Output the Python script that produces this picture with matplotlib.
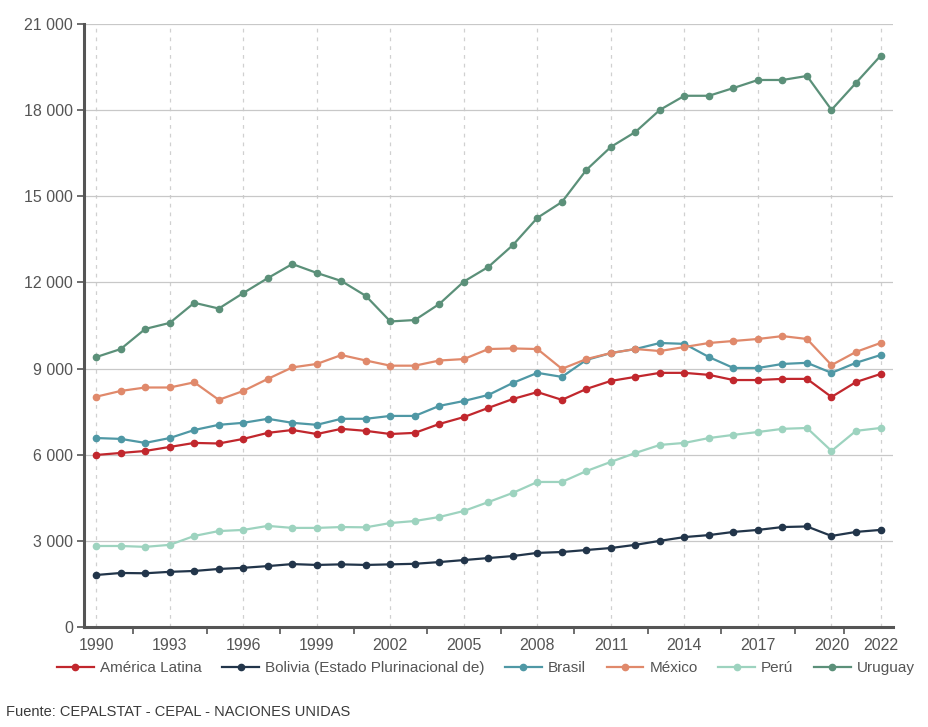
import matplotlib
matplotlib.use('Agg')
import matplotlib.pyplot as plt
from matplotlib.ticker import FuncFormatter, FixedLocator

years = list(range(1990, 2023))

america_latina = [5990, 6060, 6130, 6270, 6410, 6390, 6550, 6760, 6860, 6720, 6900, 6830, 6720, 6760, 7070, 7310,
                  7630, 7940, 8180, 7910, 8290, 8570, 8710, 8850, 8850, 8780, 8600, 8600, 8640, 8640, 8010, 8530, 8810]
bolivia = [1810, 1880, 1870, 1920, 1950, 2020, 2060, 2120, 2190, 2160, 2180, 2160, 2180, 2200, 2260, 2330,
           2400, 2470, 2580, 2610, 2680, 2750, 2860, 3000, 3130, 3200, 3310, 3380, 3480, 3500, 3170, 3310, 3380]
brasil = [6580, 6550, 6410, 6580, 6860, 7040, 7110, 7250, 7110, 7040, 7250, 7250, 7350, 7350, 7700, 7870,
          8080, 8500, 8850, 8710, 9300, 9540, 9680, 9890, 9860, 9400, 9020, 9020, 9160, 9200, 8850, 9200, 9470]
mexico = [8020, 8220, 8340, 8340, 8520, 7910, 8220, 8640, 9040, 9160, 9470, 9280, 9100, 9100, 9280, 9330,
          9680, 9700, 9680, 8990, 9330, 9540, 9680, 9610, 9750, 9890, 9960, 10030, 10130, 10030, 9120, 9580, 9890]
peru = [2820, 2820, 2790, 2860, 3170, 3340, 3380, 3520, 3450, 3450, 3480, 3470, 3620, 3690, 3830, 4040,
        4350, 4670, 5050, 5050, 5430, 5750, 6060, 6340, 6410, 6580, 6690, 6790, 6900, 6930, 6130, 6830, 6930]
uruguay = [9400, 9680, 10380, 10590, 11290, 11090, 11630, 12150, 12640, 12330, 12050, 11530, 10640, 10690, 11250, 12030,
           12540, 13300, 14250, 14800, 15920, 16720, 17240, 18010, 18500, 18500, 18770, 19050, 19050, 19190, 18010, 18950, 19890]

series = [
    ("América Latina", america_latina, "#c1272d"),
    ("Bolivia (Estado Plurinacional de)", bolivia, "#22354a"),
    ("Brasil", brasil, "#4f98a5"),
    ("México", mexico, "#e0896b"),
    ("Perú", peru, "#9dd3bf"),
    ("Uruguay", uruguay, "#5b9079"),
]

label_years = [1990, 1993, 1996, 1999, 2002, 2005, 2008, 2011, 2014, 2017, 2020, 2022]
tick_years = [1991.5, 1994.5, 1997.5, 2000.5, 2003.5, 2006.5, 2009.5, 2012.5, 2015.5, 2018.5, 2020.5]

plt.rcParams['font.family'] = ['Liberation Sans', 'DejaVu Sans']
text_color = '#555555'

fig = plt.figure(figsize=(9.29, 7.27), dpi=100)
ax = fig.add_axes([0.0904, 0.1376, 0.8706, 0.8294])

for name, vals, color in series:
    ax.plot(years, vals, '-o', color=color, linewidth=1.6, markersize=4.5, label=name, zorder=3)

ax.set_xlim(1989.5, 2022.5)
ax.set_ylim(0, 21000)
ax.set_yticks(range(0, 21001, 3000))
ax.yaxis.set_major_formatter(FuncFormatter(lambda v, p: f"{int(v):,}".replace(",", " ")))

# horizontal grid solid, vertical grid dashed at the label years
ax.grid(axis='y', color='#c8c8c8', linewidth=0.9, zorder=0)
for yr in label_years:
    ax.axvline(yr, color='#d0d0d0', linestyle=(0, (3, 4)), linewidth=0.9, zorder=0)

ax.xaxis.set_major_locator(FixedLocator(tick_years))
ax.xaxis.set_minor_locator(FixedLocator(label_years))
ax.set_xticklabels([])
ax.set_xticklabels([str(y) for y in label_years], minor=True)
ax.tick_params(axis='x', which='major', length=5, width=1.2, color='#555555')
ax.tick_params(axis='x', which='minor', length=0, pad=8, labelsize=11.5, labelcolor=text_color)
ax.tick_params(axis='y', length=5, width=1.2, color='#555555', labelsize=11.5, labelcolor=text_color, pad=3)

for s in ['top', 'right']:
    ax.spines[s].set_visible(False)
for s in ['left', 'bottom']:
    ax.spines[s].set_color('#555555')
    ax.spines[s].set_linewidth(2.2)

fig.legend(loc='center', bbox_to_anchor=(0.523, 0.081), ncol=6, frameon=False,
           fontsize=11, labelcolor=text_color, handlelength=2.4, handletextpad=0.4,
           columnspacing=1.35, borderaxespad=0)

fig.text(0.006, 0.02, "Fuente: CEPALSTAT - CEPAL - NACIONES UNIDAS", fontsize=10.5,
         color='#3a3a3a', ha='left', va='center')

fig.savefig('out.png', dpi=100, facecolor='white')
